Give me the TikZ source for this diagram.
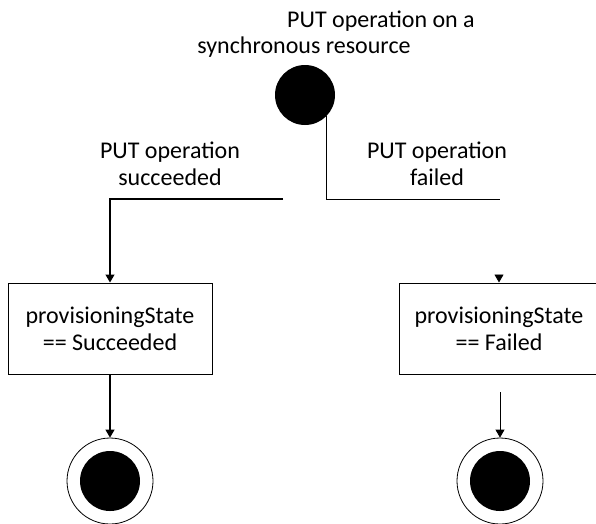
\documentclass[tikz,border=0pt]{standalone}
\usepackage{fontspec}
\setmainfont{Carlito}
\usetikzlibrary{arrows.meta,positioning}

\begin{document}
\begin{tikzpicture}[x=1pt, y=-1pt, font=\fontsize{24}{27}\selectfont]

	\tikzstyle{start}=[circle, fill=black, inner sep=0pt, minimum size=60pt]
	\tikzstyle{state}=[rectangle, draw, line width=1pt, align=center, minimum height=91pt, inner sep=0pt]
	\tikzstyle{final}=[circle, draw, line width=0.8pt, minimum size=86pt, inner sep=0pt, path picture={\fill[black] (path picture bounding box.center) circle (30pt);}]
	\tikzstyle{lbl}=[align=center, anchor=base, inner sep=0pt]
	\tikzstyle{arr}=[-{Triangle[length=8pt, width=9pt]}]

	\useasboundingbox (0,0) rectangle (596,523);

	\node[start] (init) at (305,95) {};
	\node[lbl, anchor=base west] (t1) at (287,27) {PUT operation on a};
	\node[lbl] (t2) at (304,53) {synchronous resource};

	\node[lbl] (okl) at (170,185) {PUT operation\\succeeded};
	\node[lbl] (fal) at (437,185) {PUT operation\\failed};

	\node[state, minimum width=204pt] (okst) at (110,328.5) {provisioningState\\== Succeeded};
	\node[state, minimum width=200pt] (fast) at (499,328.5) {provisioningState\\== Failed};

	\node[final] (okend) at (110,481) {};
	\node[final] (faend) at (500,481) {};

	% loose ends of the branches
	\coordinate (okj) at (283,199);
	\coordinate (faj) at (500,199);
	\coordinate (fatip) at (499,275);
	\coordinate (faout) at (500,392);

	\draw[line width=0.9pt] (init.-45) |- (faj);
	\draw[arr, line width=1.2pt] (okj) -| (okst.north);
	\draw[arr, line width=0.8pt] (fatip) -- (fast.north);
	\draw[arr, line width=1.2pt] (okst.south) -- (okend.north);
	\draw[arr, line width=0.8pt] (faout) -- (faend.north);

\end{tikzpicture}
\end{document}
